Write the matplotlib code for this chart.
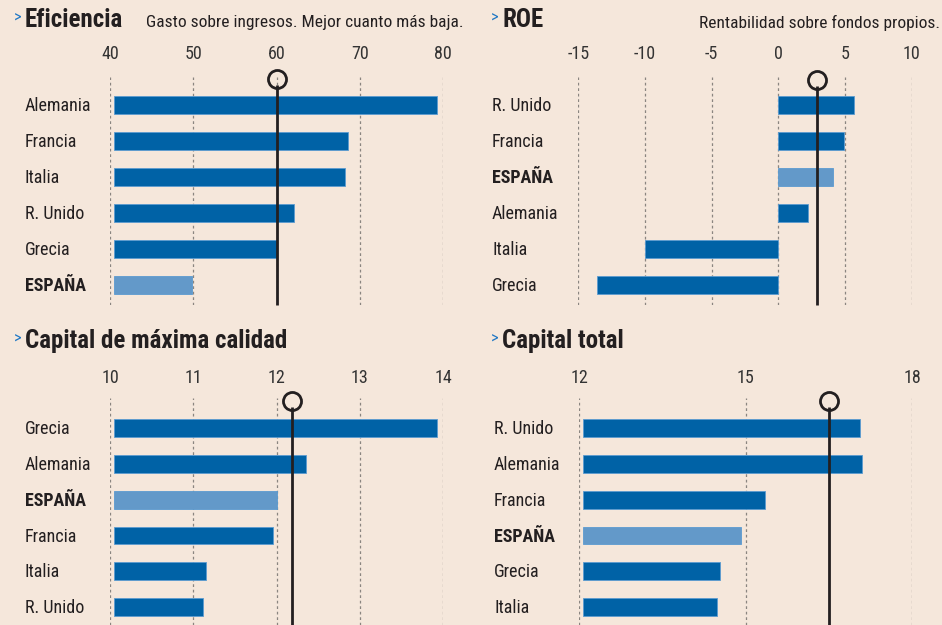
import matplotlib
matplotlib.use("Agg")
import matplotlib.pyplot as plt
from matplotlib import transforms

FONT = ["Roboto Condensed", "Fira Sans Condensed", "DejaVu Sans"]
plt.rcParams["font.family"] = FONT

BG = "#f5e7db"
DARK = "#0062a6"
LIGHT = "#6399c9"
EDGE = "#5b9bd0"
TXT = "#231f20"

# ---- data ----
efi_cats = ["Alemania", "Francia", "Italia", "R. Unido", "Grecia", "ESPAÑA"]
efi_vals = [79.3, 68.6, 68.2, 62.1, 60.1, 49.8]
efi_ref = 60
efi_ticks = [40, 50, 60, 70, 80]

roe_cats = ["R. Unido", "Francia", "ESPAÑA", "Alemania", "Italia", "Grecia"]
roe_vals = [5.7, 4.9, 4.1, 2.2, -10.0, -13.6]
roe_ref = 2.9
roe_ticks = [-15, -10, -5, 0, 5, 10]

cmc_cats = ["Grecia", "Alemania", "ESPAÑA", "Francia", "Italia", "R. Unido"]
cmc_vals = [13.93, 12.35, 12.01, 11.96, 11.15, 11.12]
cmc_ref = 12.19
cmc_ticks = [10, 11, 12, 13, 14]

ct_cats = ["R. Unido", "Alemania", "Francia", "ESPAÑA", "Grecia", "Italia"]
ct_vals = [17.07, 17.09, 15.35, 14.91, 14.54, 14.49]
ct_ref = 16.5
ct_ticks = [12, 15, 18]

W, H = 942, 625
fig = plt.figure(figsize=(W / 100, H / 100), dpi=100)
fig.patch.set_facecolor(BG)


def px_axes(x0, x1, ytop, ybot):
    return fig.add_axes([x0 / W, 1 - ybot / H, (x1 - x0) / W, (ybot - ytop) / H])


def panel(rect, cats, vals, ref, ticks, ylim, circ_off, label_x, base0, pad):
    ax = px_axes(*rect)
    ax.set_facecolor("none")
    xmin, xmax = ticks[0], ticks[-1]
    ax.set_xlim(xmin, xmax)
    ax.set_ylim(*ylim)
    for t in ticks:
        ax.axvline(t, color="#8a8580", lw=0.9, ls=(0, (2.2, 2.2)), zorder=1)
    ypos = list(range(len(cats)))
    base = 0 if base0 else xmin + 0.012 * (xmax - xmin)
    for y, c, v in zip(ypos, cats, vals):
        col = LIGHT if c == "ESPAÑA" else DARK
        ax.barh(y, v - base, left=base, height=0.5, color=col, edgecolor=EDGE,
                linewidth=0.6, zorder=2)
    ytop = ylim[1] + circ_off
    ax.plot([ref, ref], [ytop + 0.17, ylim[0]], color=TXT, lw=2.0, zorder=4,
            solid_capstyle="butt", clip_on=False)
    ax.plot([ref], [ytop], marker="o", ms=13, mfc="none", mec=TXT, mew=2.0,
            zorder=5, clip_on=False)
    ax.xaxis.tick_top()
    ax.set_xticks(ticks)
    ax.set_xticklabels([str(t) for t in ticks])
    ax.tick_params(axis="x", length=0, pad=pad, labelsize=13, labelcolor="#333333")
    ax.set_yticks([])
    for s in ax.spines.values():
        s.set_visible(False)
    tr = transforms.blended_transform_factory(fig.transFigure, ax.transData)
    for y, c in zip(ypos, cats):
        bold = c == "ESPAÑA"
        ax.text(label_x / W, y + 0.03, c, transform=tr, fontsize=13, color=TXT,
                fontweight="bold" if bold else "normal", va="center", ha="left",
                clip_on=False)
    return ax


panel((110, 443, 77, 305), efi_cats, efi_vals, efi_ref, efi_ticks,
      (5.56, -0.78), 0.06, 25, False, 10)
panel((578.3, 911.7, 77, 305), roe_cats, roe_vals, roe_ref, roe_ticks,
      (5.56, -0.78), 0.08, 492, True, 10)
panel((110, 443, 398, 625), cmc_cats, cmc_vals, cmc_ref, cmc_ticks,
      (5.5, -0.84), 0.08, 25, False, 8)
panel((579.3, 912, 398, 625), ct_cats, ct_vals, ct_ref, ct_ticks,
      (5.5, -0.84), 0.08, 494, False, 8)


def title(x, y, t, sub=None, subx=None, subha="left"):
    fig.text((x - 11) / W, 1 - (y - 2) / H, ">", fontsize=12, color="#1f77c4",
             va="center", ha="left")
    fig.text(x / W, 1 - y / H, t, fontsize=18, color=TXT, fontweight="bold",
             va="center", ha="left")
    if sub:
        fig.text(subx / W, 1 - (y + 3) / H, sub, fontsize=12.5, color=TXT,
                 va="center", ha=subha)


title(25, 20, "Eficiencia", "Gasto sobre ingresos. Mejor cuanto más baja.", 146)
title(502, 20, "ROE", "Rentabilidad sobre fondos propios.", 940, "right")
title(25, 341, "Capital de máxima calidad")
title(502, 341, "Capital total")

fig.savefig("out.png", dpi=100, facecolor=BG)
